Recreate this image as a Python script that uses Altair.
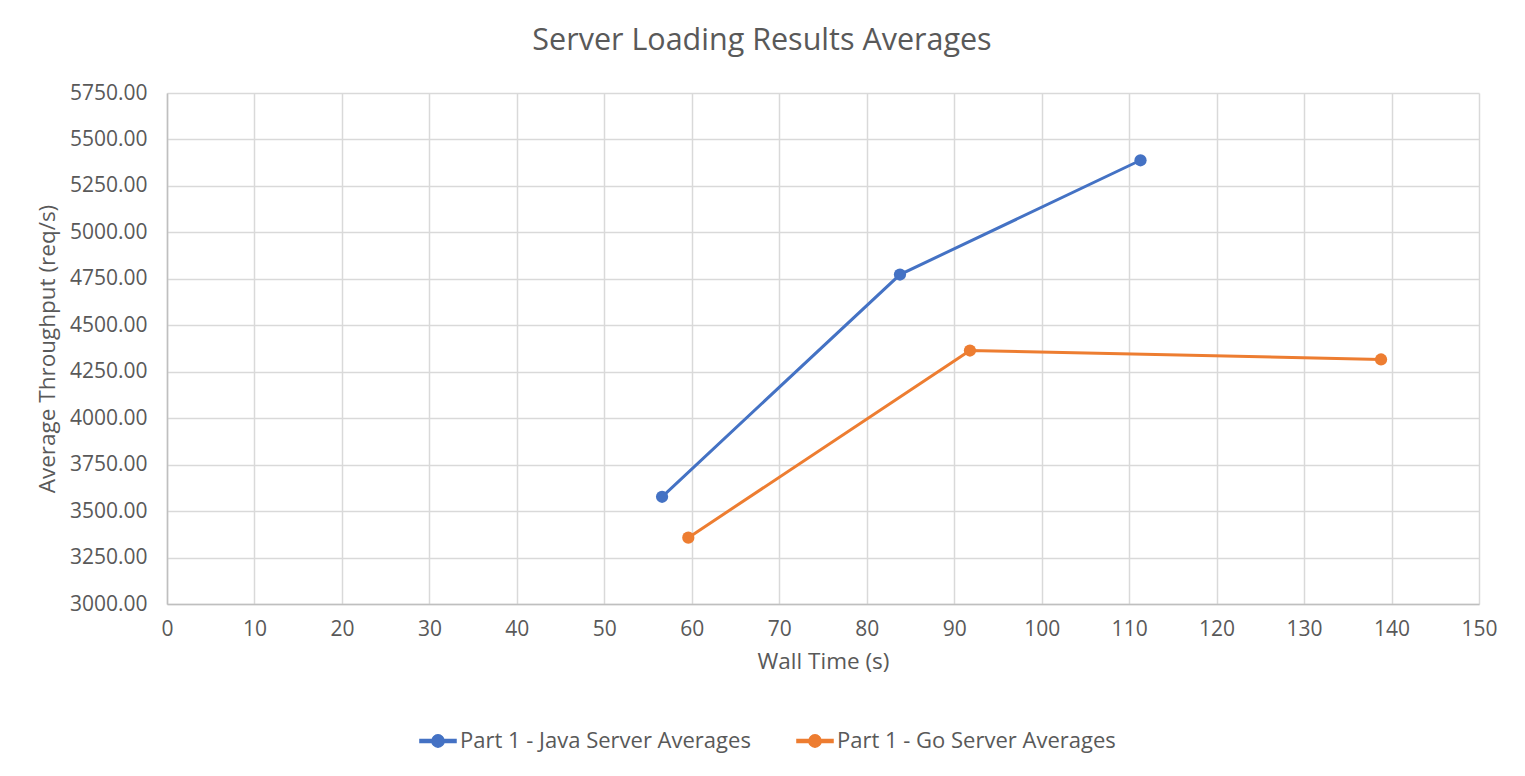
import altair as alt
import pandas as pd

series_names = ["Part 1 - Java Server Averages", "Part 1 - Go Server Averages"]
java_wall = [56.6, 83.8, 111.3]
java_thr = [3577, 4773, 5388]
go_wall = [59.6, 91.8, 138.8]
go_thr = [3357, 4364, 4316]
colors = ["#4472C4", "#ED7D31"]

rows = []
for i, (w, t) in enumerate(zip(java_wall, java_thr)):
    rows.append({"series": series_names[0], "wall": w, "thr": t, "order": i})
for i, (w, t) in enumerate(zip(go_wall, go_thr)):
    rows.append({"series": series_names[1], "wall": w, "thr": t, "order": i})
df = pd.DataFrame(rows)

FONT = "Open Sans"
TXT = "#595959"

# legend symbol: a short thick line with a filled dot in the middle (fill-only path)
sym = ("M-1,-0.085L1,-0.085L1,0.085L-1,0.085Z"
       "M-0.34,0A0.34,0.34,0,1,1,0.34,0A0.34,0.34,0,1,1,-0.34,0Z")

cscale = alt.Scale(domain=series_names, range=colors)

x = alt.X(
    "wall:Q",
    title="Wall Time (s)",
    scale=alt.Scale(domain=[0, 150], nice=False),
    axis=alt.Axis(values=list(range(0, 151, 10)), labelPadding=14, titlePadding=11, labelFlush=False),
)
y = alt.Y(
    "thr:Q",
    title="Average Throughput (req/s)",
    scale=alt.Scale(domain=[3000, 5750], nice=False, zero=False),
    axis=alt.Axis(values=list(range(3000, 5751, 250)), format=".2f", labelPadding=20, titlePadding=10),
)

base = alt.Chart(df)

legend_layer = base.mark_point(filled=True, size=1300, shape=sym, opacity=1).encode(
    x=x,
    y=y,
    color=alt.Color(
        "series:N",
        scale=cscale,
        sort=series_names,
        legend=alt.Legend(
            title=None,
            orient="none",
            direction="horizontal",
            legendX=252,
            legendY=629,
            symbolType=sym,
            symbolSize=1300,
            symbolOpacity=1,
            labelFontSize=22,
            labelFont=FONT,
            labelColor=TXT,
            labelLimit=500,
            columnPadding=42,
            labelOffset=3,
        ),
    ),
).transform_filter("false")

lines = base.mark_line(strokeWidth=3).encode(
    x=x, y=y, order="order:Q",
    color=alt.Color("series:N", scale=cscale, legend=None),
)
points = base.mark_point(filled=True, size=150, opacity=1).encode(
    x=x, y=y,
    color=alt.Color("series:N", scale=cscale, legend=None),
)

chart = (
    alt.layer(legend_layer, lines, points)
    .properties(
        width=1312,
        height=511,
        autosize=alt.AutoSizeParams(type="none"),
        padding={"left": 159, "top": 85, "right": 38, "bottom": 160},
        title=alt.TitleParams(
            "Server Loading Results Averages",
            font=FONT,
            fontSize=30.5,
            fontWeight="normal",
            color=TXT,
            anchor="middle",
            dx=-61,
            offset=26,
        ),
    )
    .configure_view(stroke=None)
    .configure_axis(
        labelFont=FONT,
        labelFontSize=21,
        labelColor=TXT,
        titleFont=FONT,
        titleFontSize=22.5,
        titleFontWeight="normal",
        titleColor=TXT,
        grid=True,
        gridColor="#d9d9d9",
        gridWidth=1.5,
        domainColor="#bfbfbf",
        domainWidth=1.5,
        ticks=False,
    )
)

chart.save("out.html", embed_options={"renderer": "svg", "actions": False})
